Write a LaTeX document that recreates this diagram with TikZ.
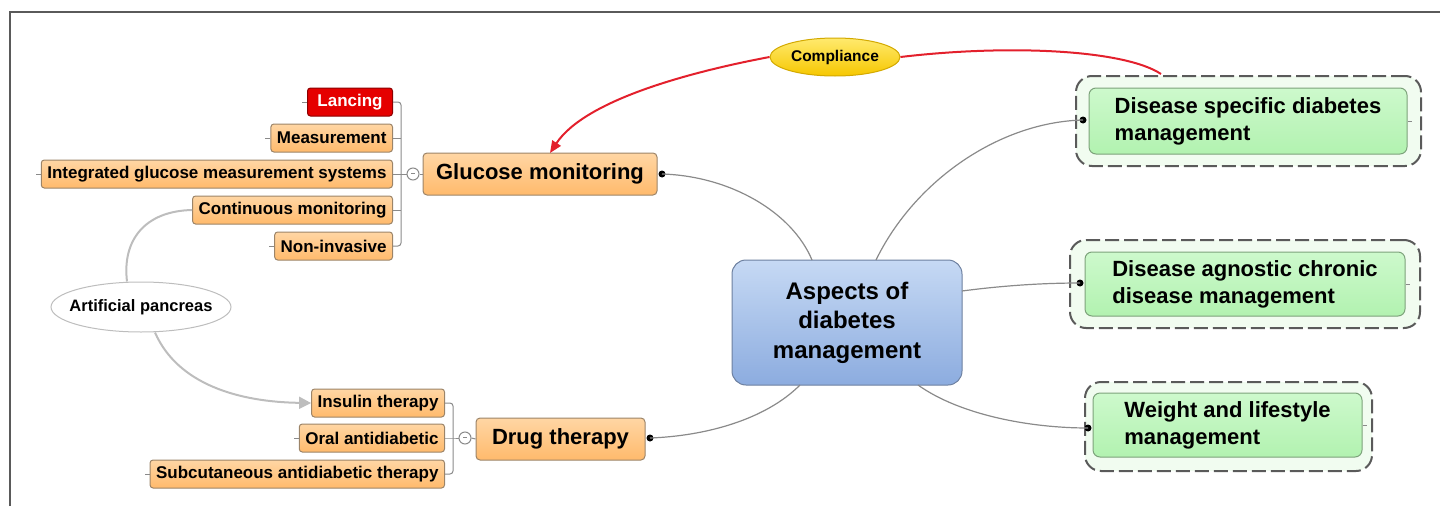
\documentclass[tikz,border=0pt]{standalone}
\usepackage{fontspec}
\setmainfont{Liberation Sans}
\usetikzlibrary{shapes.geometric,arrows.meta,calc}
\definecolor{kidborder}{HTML}{9C8468}
\definecolor{kidtop}{HTML}{FFD6A4}
\definecolor{kidbot}{HTML}{FFBA6C}
\definecolor{connc}{HTML}{8A8A8A}
\definecolor{lightc}{HTML}{BDBDBD}
\definecolor{redc}{HTML}{E3202C}
\definecolor{greenb}{HTML}{7DA27B}
\definecolor{greent}{HTML}{CDF9CC}
\definecolor{greenm}{HTML}{B2F2B0}
\definecolor{greenout}{HTML}{F1FCF0}
\definecolor{dashc}{HTML}{5A5A5A}
\definecolor{bluet}{HTML}{C6D9F4}
\definecolor{blueb}{HTML}{8CACDF}
\definecolor{blueborder}{HTML}{6D80A0}
\definecolor{yelt}{HTML}{FFEA6E}
\definecolor{yelb}{HTML}{F6C700}
\definecolor{yelborder}{HTML}{D3A900}
\newcommand\kidfont{\fontsize{17}{20}\selectfont\bfseries}
\newcommand\mainfont{\fontsize{22}{27}\selectfont\bfseries}
\newcommand\centerfont{\fontsize{24}{29.5}\selectfont\bfseries}
\tikzset{
  kid/.style={draw=kidborder, line width=1pt, rounded corners=3pt, top color=kidtop, bottom color=kidbot,
    minimum height=28pt, inner xsep=6pt, inner ysep=0pt, font=\kidfont, anchor=east},
  topic/.style={draw=kidborder, line width=1pt, rounded corners=4pt, top color=kidtop, bottom color=kidbot,
    minimum height=42pt, inner ysep=0pt, font=\mainfont},
  conn/.style={draw=connc, line width=1.2pt},
  tick/.style={draw=connc, line width=1pt},
  dotn/.style={circle, fill=black, inner sep=0pt, minimum size=7pt},
  collapse/.style={circle, draw=connc, fill=white, line width=1pt, inner sep=0pt, minimum size=12pt},
  greeninner/.style={draw=greenb, line width=1pt, rounded corners=7pt, top color=greent, bottom color=greenm,
    align=left, font=\mainfont, inner sep=0pt},
  greenouter/.style={draw=dashc, line width=2pt, dash pattern=on 14pt off 5pt, rounded corners=16pt, fill=greenout, inner sep=0pt},
}
\begin{document}
\begin{tikzpicture}[x=1pt,y=-1pt]
\useasboundingbox (0,0) rectangle (1440,506);
% frame
\draw[dashc, line width=1.5pt] (10,506) -- (10,12) -- (1440,12);

% central
\node[draw=blueborder, line width=1pt, rounded corners=14pt, top color=bluet, bottom color=blueb,
  minimum width=230pt, minimum height=125pt, align=center, font=\centerfont] (center) at (847,322.5)
  {Aspects of\\diabetes\\management};

% glucose monitoring
\node[topic, minimum width=234pt] (gm) at (540,174) {Glucose monitoring};
\node[kid, draw=red!55!black, top color=red!90!black, bottom color=red!90!black, text=white, minimum width=85pt] (lan) at (393,102) {Lancing};
\node[kid] (mea) at (393,138) {Measurement};
\node[kid] (igm) at (393,174) {Integrated glucose measurement systems};
\node[kid] (cm) at (393,210) {Continuous monitoring};
\node[kid] (ni) at (393,246) {Non-invasive};
\coordinate (gbr) at (401,174);
\node[collapse] (gcol) at (413,174) {\textcolor{connc}{\rule[0.5pt]{4pt}{1.2pt}}};
\draw[tick, rounded corners=3pt] (lan.east) -- (401,102) -- (401,246) -- (ni.east);
\foreach \n in {mea,igm,cm} \draw[tick] (\n.east) -- (\n.east -| gbr);
\draw[tick] (gbr) -- (gcol.west);
\draw[tick] (gcol.east) -- (gm.west);
\foreach \n in {lan,mea,igm,cm,ni} \draw[tick] (\n.west) -- ++(-5,0);

% drug therapy
\node[topic, minimum width=169pt] (dt) at (560.5,439) {Drug therapy};
\node[kid] (ins) at (445,403) {Insulin therapy};
\node[kid] (oral) at (445,438) {Oral antidiabetic};
\node[kid] (sub) at (445,474) {Subcutaneous antidiabetic therapy};
\coordinate (dbr) at (453,438);
\node[collapse] (dcol) at (465,438) {\textcolor{connc}{\rule[0.5pt]{4pt}{1.2pt}}};
\draw[tick, rounded corners=3pt] (ins.east) -- (453,403) -- (453,474) -- (sub.east);
\draw[tick] (oral.east) -- (dbr) -- (dcol.west);
\draw[tick] (dcol.east) -- (dt.west);
\foreach \n in {oral,sub} \draw[tick] (\n.west) -- ++(-5,0);

% artificial pancreas
\node[ellipse, draw=lightc, line width=1pt, fill=white, minimum width=180pt, minimum height=50pt,
  inner sep=0pt, font=\fontsize{16.5}{18}\selectfont\bfseries] (ap) at (141,307) {\makebox[0pt]{Artificial pancreas}};
\draw[lightc, line width=2pt] (cm.west) .. controls (145,211) and (122,240) .. ($(ap.north)+(-14,0)$);
\draw[lightc, line width=2pt, -{Triangle[length=12pt,width=12pt]}] ($(ap.south)+(14,0)$) .. controls (178,385) and (240,402) .. (ins.west);

% right side boxes
\node[greenouter, minimum width=345pt, minimum height=90pt] (dso) at (1248.5,121) {};
\node[greeninner, minimum width=318pt, minimum height=66pt] (ds) at (1248,121) {Disease specific diabetes\\management};
\node[greenouter, minimum width=350pt, minimum height=88pt] (dao) at (1245,284) {};
\node[greeninner, minimum width=320pt, minimum height=64pt] (da) at (1245,284) {Disease agnostic chronic\\disease management};
\node[greenouter, minimum width=287pt, minimum height=89pt] (wlo) at (1228.5,426.5) {};
\node[greeninner, minimum width=269pt, minimum height=64pt] (wl) at (1227.5,425) {Weight and lifestyle\\management};
\foreach \n in {ds,da,wl} \draw[connc, line width=0.8pt] (\n.east) -- ++(4,0);

% dots
\node[dotn] (dgm) at (662,174) {};
\node[dotn] (ddt) at (650,438) {};
\node[dotn] (dds) at (1083,120) {};
\node[dotn] (dda) at (1080,283) {};
\node[dotn] (dwl) at (1088,428) {};

% connectors from center
\draw[conn] (dgm.center) .. controls (730,176) and (792,212) .. (812,260);
\draw[conn] (ddt.center) .. controls (705,436) and (765,420) .. (800,385);
\draw[conn] (876,260) .. controls (915,180) and (1000,122) .. (dds.center);
\draw[conn] (962,291) .. controls (1000,286) and (1040,283) .. (dda.center);
\draw[conn] (918,385) .. controls (960,415) and (1030,428) .. (dwl.center);

% compliance
\node[ellipse, draw=yelborder, line width=1pt, top color=yelt, bottom color=yelb, minimum width=130pt, minimum height=38pt,
  inner sep=0pt, font=\fontsize{15.5}{17}\selectfont\bfseries] (comp) at (835,57) {\makebox[0pt]{Compliance}};
\draw[redc, line width=2pt] (1161,74) .. controls (1125,50) and (1010,44) .. (comp.east);
\draw[redc, line width=2pt, -{Triangle[length=12pt,width=10pt]}] (comp.west) .. controls (690,72) and (585,100) .. (550,153);
\end{tikzpicture}
\end{document}
